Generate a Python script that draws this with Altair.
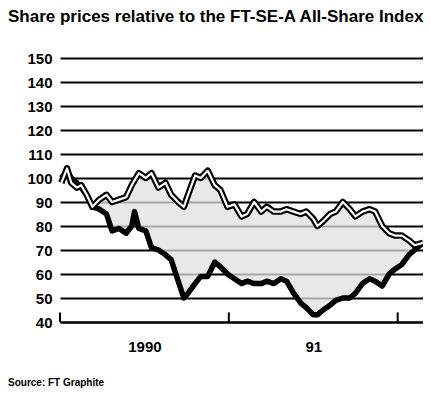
import altair as alt
import pandas as pd

# --- data (months from start of 1990) ---
months = [0.1, 0.5, 0.8, 1.2, 1.5, 1.9, 2.3, 2.8, 3.3, 3.7, 4.2, 4.7, 5.1, 5.3, 5.6,
          6.1, 6.5, 7.0, 7.5, 7.9, 8.4, 8.8, 9.1, 9.6, 10.0, 10.5, 11.0, 11.4, 11.9,
          12.4, 12.9, 13.3, 13.8, 14.3, 14.7, 15.2, 15.7, 16.1, 16.6, 17.1, 17.5,
          18.0, 18.3, 18.7, 19.2, 19.6, 20.1, 20.6, 21.0, 21.5, 22.0, 22.4, 22.9,
          23.4, 23.8, 24.3, 24.8, 25.2, 25.8]
upper = [98, 104, 98, 96, 97, 93, 88, 91, 93, 90, 91, 92, 97, 99, 102,
         100, 102, 96, 98, 93, 90, 88, 93, 101, 100, 103, 97, 95, 88,
         89, 84, 85, 90, 86, 88, 86, 86, 87, 86, 85, 86,
         83, 80, 82, 85, 86, 90, 87, 84, 86, 87, 86, 80,
         77, 76, 76, 74, 72, 73]
lower = [100, 103, 100, 98, 96, 93, 88, 87, 85, 78, 79, 77, 80, 86, 79,
         78, 71, 70, 68, 66, 57, 50, 52, 56, 59, 59, 65, 63, 60,
         58, 56, 57, 56, 56, 57, 56, 58, 57, 52, 48, 46,
         43, 43, 45, 47, 49, 50, 50, 52, 56, 58, 57, 55,
         60, 62, 64, 68, 70, 73]

tick_months = [0, 12, 24]
year_label_pos = [6, 18]
year_labels = ["1990", "91"]
y_ticks = list(range(40, 151, 10))

title_text = "Share prices relative to the FT-SE-A All-Share Index"
source_text = "Source: FT Graphite"

df = pd.DataFrame({"month": months, "upper": upper, "lower": lower})
ticks_df = pd.DataFrame({"month": tick_months, "y0": [40] * 3, "y1": [44] * 3})

FONT = "Liberation Sans"
W, H = 363, 264

label_expr = " : ".join(
    [f"datum.value == {p} ? '{l}'" for p, l in zip(year_label_pos, year_labels)] + ["''"]
)

xscale = alt.Scale(domain=[0, 25.8], nice=False, zero=False)
yscale = alt.Scale(domain=[40, 150], nice=False, zero=False)

x_axis = alt.Axis(values=year_label_pos, labelExpr=label_expr, ticks=False, grid=False,
                  domain=True, domainColor="black", domainWidth=2, labelPadding=17,
                  labelFontSize=15, labelFontWeight="bold", labelColor="black",
                  labelFont=FONT, title=None, labelOverlap=False)
y_axis = alt.Axis(values=y_ticks, ticks=False, domain=False, grid=True,
                  gridColor="black", gridWidth=1.8, labelPadding=8,
                  labelFontSize=15, labelFontWeight="bold", labelColor="black",
                  labelFont=FONT, title=None, labelOverlap=False, labelFlush=False)


def X(field="month:Q"):
    return alt.X(field, scale=xscale, axis=x_axis)


def Y(field):
    return alt.Y(field, scale=yscale, axis=y_axis)


base = alt.Chart(df)

area = base.mark_area(color="#e0e0e0", opacity=0.75).encode(
    x=X(), y=Y("lower:Q"), y2="upper:Q"
)
lower_line = base.mark_line(color="black", strokeWidth=5.5, strokeJoin="round").encode(
    x=X(), y=Y("lower:Q")
)
upper_outer = base.mark_line(color="black", strokeWidth=6.5, strokeJoin="round").encode(
    x=X(), y=Y("upper:Q")
)
upper_inner = base.mark_line(color="white", strokeWidth=2.2, strokeJoin="round").encode(
    x=X(), y=Y("upper:Q")
)
tick_rules = alt.Chart(ticks_df).mark_rule(color="black", strokeWidth=2).encode(
    x=X(), y=Y("y0:Q"), y2="y1:Q"
)

title = alt.Chart(pd.DataFrame({"t": [title_text]})).mark_text(
    align="left", baseline="middle", font=FONT, fontSize=17, fontWeight="bold", color="black"
).encode(x=alt.value(-52), y=alt.value(-41), text="t:N")

source = alt.Chart(pd.DataFrame({"t": [source_text]})).mark_text(
    align="left", baseline="middle", font=FONT, fontSize=10, fontWeight="bold", color="black"
).encode(x=alt.value(-52), y=alt.value(H + 61), text="t:N")

chart = alt.layer(area, lower_line, upper_outer, upper_inner, tick_rules, title, source).properties(
    width=W, height=H,
    autosize=alt.AutoSizeParams(type="none"),
    padding={"left": 52, "top": 50, "right": 0, "bottom": 70},
).configure(background="white").configure_view(stroke=None)

chart.save("out.html", embed_options={"renderer": "svg", "actions": False})
